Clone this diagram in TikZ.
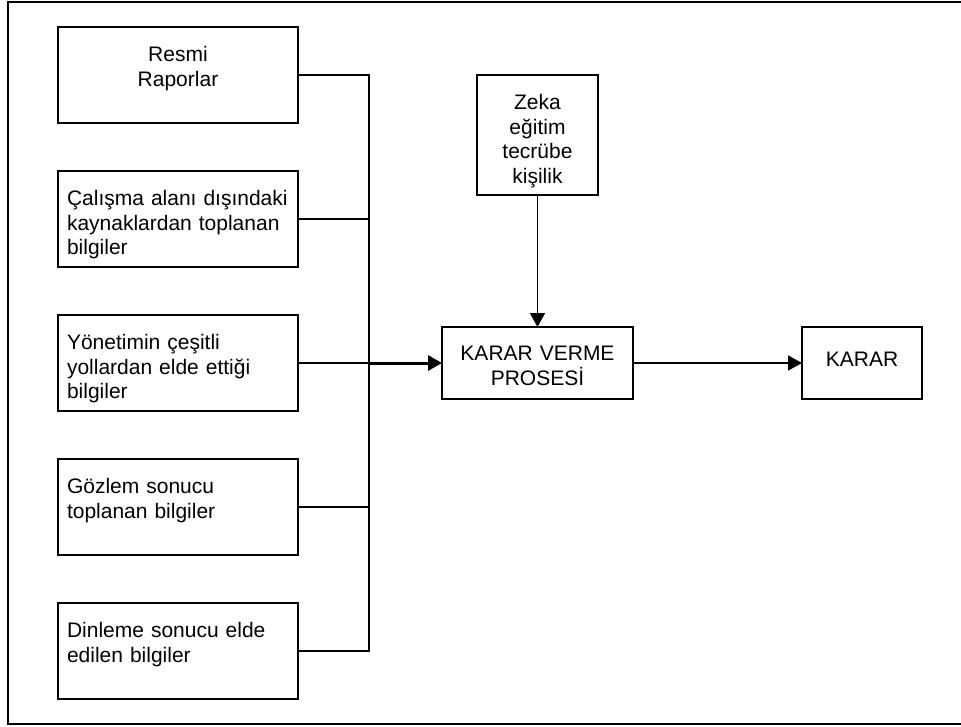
\documentclass[tikz,border=0pt]{standalone}
\usepackage{fontspec}
\setmainfont{Liberation Sans}
\usetikzlibrary{arrows.meta, positioning}

\begin{document}
\begin{tikzpicture}[x=1pt,y=-1pt,>={Triangle[length=14pt,width=15pt]},
                    line width=1.6pt,node distance=48pt,
                    font=\fontsize{21}{24.5}\selectfont,
                    kutu/.style={draw,outer sep=0pt,inner ysep=0pt},
                    kaynak/.style={kutu,inner xsep=9pt,text width=222pt,align=left,
                                   text height=34.5pt,text depth=61.5pt}]
   \useasboundingbox (0,0) rectangle (961,726);
   \draw[line width=2pt] (8,2) rectangle (963,724);
   % bilgi kaynaklari
   \node[kaynak,align=center,anchor=north west] (res) at (58,27) {Resmi\\Raporlar};
   \node[kaynak] (cal) [below=of res] {Çalışma alanı dışındaki\\kaynaklardan toplanan\\bilgiler};
   \node[kaynak] (yon) [below=of cal] {Yönetimin çeşitli\\yollardan elde ettiği\\bilgiler};
   \node[kaynak] (goz) [below=of yon] {Gözlem sonucu\\toplanan bilgiler};
   \node[kaynak] (din) [below=of goz] {Dinleme sonucu elde\\edilen bilgiler};
   \coordinate[right=71pt of yon] (bus);
   % surec
   \node[kutu,inner xsep=0pt,text width=191pt,align=center,text height=33.5pt,
         text depth=38.5pt] (proses) [right=144pt of yon] {KARAR VERME\\PROSESİ};
   \node[kutu,inner xsep=0pt,text width=121pt,align=center,text height=34.5pt,
         text depth=85.5pt] (zeka) [above=132pt of proses] {Zeka\\eğitim\\tecrübe\\kişilik};
   \node[kutu,inner xsep=0pt,text width=120pt,align=center,text height=39.5pt,
         text depth=32.5pt] (karar) [right=169pt of proses] {KARAR};
   \draw (res.east) -| (bus) (din.east) -| (bus) (yon.east) -- (bus)
         (cal.east) -- (cal.east -| bus) (goz.east) -- (goz.east -| bus);
   \draw[->,line width=3pt] (bus) -- (proses);
   \draw[->] (zeka) -- (proses);
   \draw[->] (proses) -- (karar);
\end{tikzpicture}
\end{document}
